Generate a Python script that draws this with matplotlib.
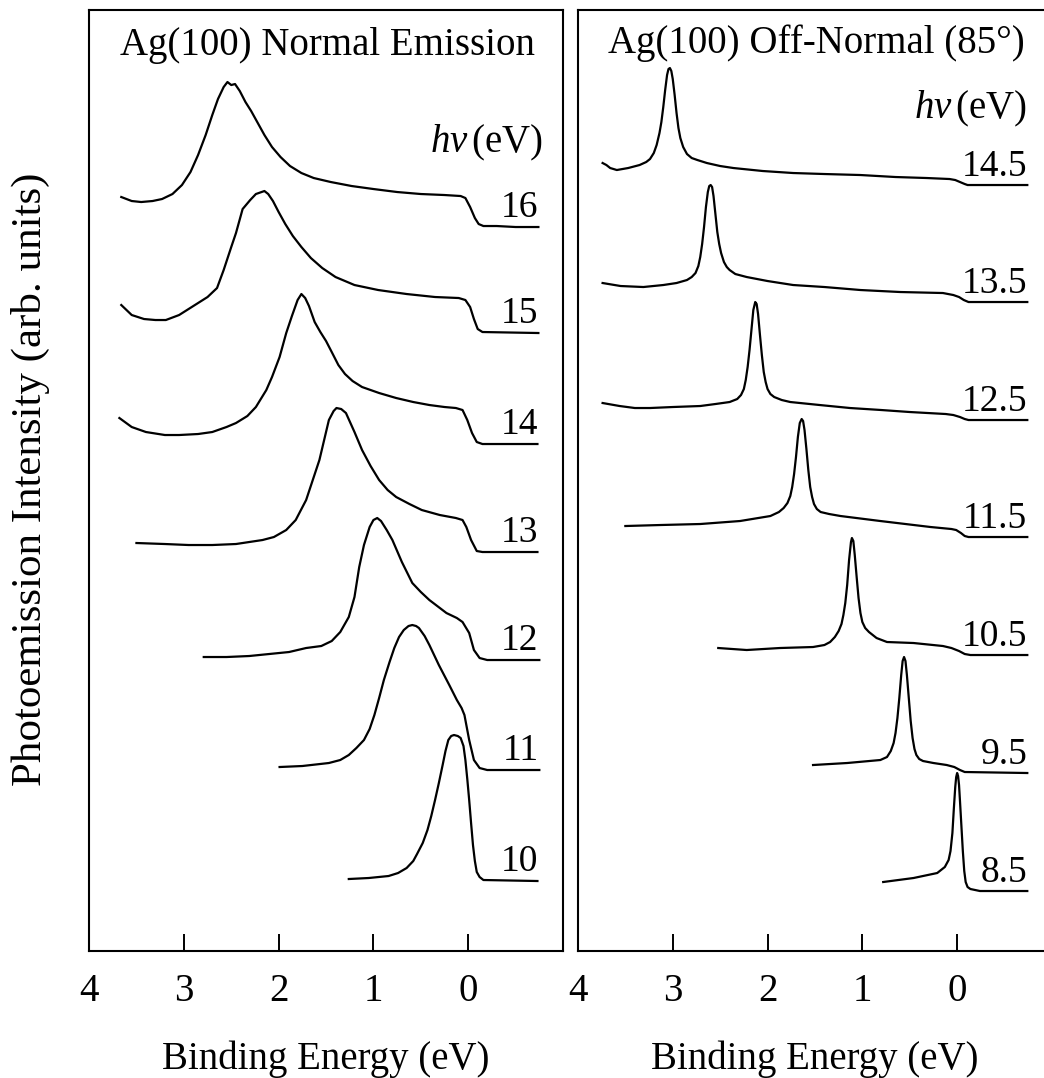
import matplotlib
matplotlib.use("Agg")
import matplotlib.pyplot as plt

# ---- Ag(100) normal emission: binding energy (eV) / intensity (arb. units) ----
E_16 = [3.66, 3.55, 3.45, 3.33, 3.23, 3.12, 3.02, 2.93, 2.85, 2.77, 2.70, 2.64, 2.58, 2.54, 2.50,
        2.46, 2.41, 2.35, 2.29, 2.22, 2.15, 2.07, 1.98, 1.88, 1.76, 1.63, 1.45, 1.23, 1.00, 0.75,
        0.50, 0.25, 0.08, 0.03, -0.02, -0.07, -0.11, -0.16, -0.30, -0.50, -0.74]
I_16 = [30, 26, 25, 26, 28, 33, 42, 55, 72, 92, 112, 128, 140, 145, 142,
        143, 136, 125, 116, 104, 92, 80, 70, 61, 54, 49, 45, 41, 38, 35,
        33, 32, 31, 29, 20, 9, 3, 1, 1, 0, 0]

E_15 = [3.66, 3.55, 3.42, 3.30, 3.19, 3.05, 2.95, 2.85, 2.75, 2.65, 2.58, 2.50, 2.45, 2.38, 2.30,
        2.24, 2.18, 2.15, 2.11, 2.06, 2.00, 1.93, 1.85, 1.76, 1.66, 1.54, 1.40, 1.20, 0.95, 0.65,
        0.35, 0.10, 0.03, -0.02, -0.06, -0.10, -0.15, -0.74]
I_15 = [28, 18, 14, 13, 13, 18, 24, 30, 36, 45, 63, 86, 100, 124, 133,
        139, 141, 142, 139, 132, 121, 109, 97, 86, 75, 65, 56, 48, 43, 39,
        36, 35, 33, 26, 14, 4, 1, 0]

E_14 = [3.68, 3.55, 3.40, 3.20, 3.05, 2.85, 2.70, 2.55, 2.45, 2.33, 2.24, 2.13, 2.07, 1.99, 1.92,
        1.86, 1.80, 1.76, 1.72, 1.68, 1.62, 1.56, 1.50, 1.44, 1.37, 1.30, 1.22, 1.12, 0.94, 0.76,
        0.58, 0.41, 0.25, 0.13, 0.06, 0.01, -0.04, -0.09, -0.15, -0.73]
I_14 = [26, 17, 12, 9, 9, 10, 12, 17, 21, 28, 37, 54, 67, 87, 111,
        128, 144, 150, 146, 138, 122, 112, 103, 92, 79, 70, 63, 57, 51, 46,
        42, 39, 37, 36, 34, 24, 11, 2, 0, 0]

E_13 = [3.50, 3.20, 2.95, 2.70, 2.45, 2.17, 2.05, 1.92, 1.82, 1.71, 1.64, 1.57, 1.52, 1.47, 1.42,
        1.39, 1.34, 1.29, 1.20, 1.12, 1.03, 0.94, 0.85, 0.76, 0.62, 0.49, 0.30, 0.13, 0.06, 0.02,
        -0.03, -0.09, -0.15, -0.73]
I_13 = [9, 8, 7, 7, 8, 12, 15, 22, 32, 52, 72, 92, 112, 132, 141,
        144, 143, 139, 120, 102, 86, 72, 62, 55, 48, 42, 37, 34, 32, 25,
        12, 1, 0, 0]

E_12 = [2.79, 2.55, 2.31, 2.10, 1.89, 1.71, 1.55, 1.44, 1.35, 1.26, 1.20, 1.15, 1.10, 1.04, 1.00,
        0.96, 0.92, 0.86, 0.80, 0.70, 0.59, 0.50, 0.41, 0.23, 0.12, 0.06, -0.01, -0.06, -0.12, -0.20,
        -0.75]
I_12 = [3, 3, 4, 6, 8, 12, 14, 19, 28, 43, 63, 93, 115, 133, 140,
        142, 139, 130, 120, 98, 77, 68, 60, 47, 42, 38, 27, 10, 2, 0,
        0]

E_11 = [1.99, 1.75, 1.47, 1.35, 1.26, 1.18, 1.10, 1.04, 0.99, 0.94, 0.89, 0.83, 0.78, 0.73, 0.68,
        0.63, 0.59, 0.55, 0.52, 0.46, 0.41, 0.31, 0.20, 0.12, 0.07, 0.04, -0.01, -0.06, -0.12, -0.20,
        -0.75]
I_11 = [3, 4, 7, 10, 15, 22, 30, 41, 55, 72, 90, 108, 122, 133, 140,
        144, 145, 144, 142, 134, 125, 105, 85, 70, 62, 55, 30, 10, 2, 0,
        0]

E_10 = [1.26, 1.05, 0.84, 0.74, 0.65, 0.58, 0.54, 0.48, 0.43, 0.39, 0.35, 0.31, 0.27, 0.24, 0.21,
        0.18, 0.15, 0.11, 0.08, 0.05, 0.03, 0.01, -0.01, -0.03, -0.05, -0.07, -0.09, -0.12, -0.16, -0.73]
I_10 = [2, 3, 5, 8, 13, 20, 27, 38, 51, 65, 81, 98, 116, 130, 141,
        145, 146, 145, 143, 135, 121, 102, 81, 58, 36, 20, 9, 4, 1, 0]

NORMAL_HV = ["16", "15", "14", "13", "12", "11", "10"]
NORMAL_OFFSET = [724, 618, 507, 399, 291, 181, 70]

# ---- Ag(100) off-normal (85 deg) ----
E_145 = [3.74, 3.70, 3.66, 3.59, 3.47, 3.35, 3.28, 3.24, 3.20, 3.17, 3.14, 3.12, 3.10, 3.08, 3.06,
         3.045, 3.03, 3.015, 3.00, 2.98, 2.96, 2.94, 2.92, 2.89, 2.85, 2.80, 2.74, 2.64, 2.50, 2.36,
         2.05, 1.73, 1.40, 1.02, 0.65, 0.32, 0.08, 0.02, -0.03, -0.08, -0.11, -0.74]
I_145 = [22, 20, 17, 15, 17, 20, 23, 26, 32, 40, 52, 63, 78, 95, 110,
         116, 117, 114, 106, 90, 72, 57, 47, 38, 31, 27, 25, 22, 19, 17,
         14, 12, 11, 10, 8, 7, 6, 5, 3, 1, 0, 0]

E_135 = [3.74, 3.55, 3.31, 3.10, 2.96, 2.85, 2.80, 2.76, 2.73, 2.71, 2.69, 2.67, 2.65, 2.63, 2.615,
         2.60, 2.585, 2.57, 2.55, 2.53, 2.51, 2.49, 2.46, 2.43, 2.40, 2.34, 2.22, 2.00, 1.73, 1.40,
         1.02, 0.60, 0.15, 0.04, -0.02, -0.07, -0.12, -0.74]
I_135 = [19, 16, 15, 17, 19, 22, 25, 29, 36, 45, 58, 75, 95, 110, 116,
         117, 115, 106, 88, 70, 58, 49, 40, 35, 32, 28, 25, 21, 17, 15,
         12, 10, 9, 7, 5, 2, 0, 0]

E_125 = [3.74, 3.56, 3.40, 3.24, 3.00, 2.71, 2.55, 2.40, 2.32, 2.28, 2.25, 2.23, 2.21, 2.19, 2.17,
         2.15, 2.13, 2.115, 2.10, 2.08, 2.06, 2.04, 2.02, 2.00, 1.97, 1.93, 1.85, 1.76, 1.45, 1.13,
         0.80, 0.50, 0.12, 0.04, -0.03, -0.08, -0.12, -0.74]
I_125 = [17, 14, 12, 12, 13, 14, 16, 18, 21, 25, 31, 40, 53, 70, 90,
         110, 118, 116, 106, 85, 65, 48, 38, 31, 26, 23, 20, 18, 15, 12,
         10, 8, 6, 5, 3, 1, 0, 0]

E_115 = [3.50, 3.13, 2.71, 2.29, 1.97, 1.88, 1.83, 1.79, 1.76, 1.74, 1.72, 1.70, 1.68, 1.66, 1.64,
         1.625, 1.61, 1.59, 1.57, 1.55, 1.53, 1.51, 1.48, 1.44, 1.35, 1.23, 0.81, 0.28, 0.06, 0.01,
         -0.04, -0.08, -0.12, -0.74]
I_115 = [11, 12, 13, 16, 21, 25, 29, 34, 41, 50, 63, 80, 100, 114, 118,
         116, 107, 88, 67, 50, 40, 33, 28, 25, 23, 21, 16, 10, 8, 7,
         4, 1, 0, 0]

E_105 = [2.52, 2.22, 1.87, 1.52, 1.40, 1.34, 1.29, 1.25, 1.22, 1.20, 1.18, 1.16, 1.14, 1.12, 1.11,
         1.095, 1.08, 1.06, 1.04, 1.02, 1.00, 0.97, 0.93, 0.85, 0.74, 0.46, 0.15, 0.06, -0.02, -0.08,
         -0.14, -0.74]
I_105 = [7, 5, 7, 8, 10, 13, 18, 24, 31, 40, 52, 70, 95, 113, 117,
         114, 100, 78, 57, 42, 33, 27, 23, 17, 13, 12, 9, 7, 4, 1,
         0, 0]

E_95 = [1.52, 1.16, 0.81, 0.74, 0.70, 0.67, 0.65, 0.63, 0.61, 0.59, 0.575, 0.56, 0.545, 0.53, 0.51,
        0.49, 0.47, 0.45, 0.43, 0.40, 0.36, 0.25, 0.11, 0.03, -0.03, -0.08, -0.74]
I_95 = [8, 10, 13, 16, 22, 30, 40, 55, 75, 98, 112, 116, 112, 98, 75,
        52, 35, 24, 18, 14, 12, 10, 8, 6, 3, 1, 0]

E_85 = [0.78, 0.46, 0.21, 0.13, 0.09, 0.07, 0.05, 0.035, 0.02, 0.01, 0.00, -0.01, -0.02, -0.03, -0.045,
        -0.06, -0.075, -0.09, -0.11, -0.14, -0.24, -0.74]
I_85 = [9, 13, 18, 24, 31, 40, 58, 82, 104, 114, 118, 115, 106, 90, 65,
        40, 20, 9, 4, 2, 0, 0]

OFF_HV = ["14.5", "13.5", "12.5", "11.5", "10.5", "9.5", "8.5"]
OFF_OFFSET = [766, 649, 531, 414, 296, 178, 60]

XTICKS = [4, 3, 2, 1, 0]
XTICKLABELS = ["4", "3", "2", "1", "0"]

plt.rcParams.update({
    "font.family": "Liberation Serif",
    "mathtext.fontset": "custom",
    "mathtext.rm": "Liberation Serif",
    "mathtext.it": "Liberation Serif:italic",
})

fig = plt.figure(figsize=(10.44, 10.78), dpi=100)
ax1 = fig.add_axes([0.0853, 0.1178, 0.4540, 0.8729])
ax2 = fig.add_axes([0.5536, 0.1178, 0.4540, 0.8729])

normal = [(E_16, I_16), (E_15, I_15), (E_14, I_14), (E_13, I_13),
          (E_12, I_12), (E_11, I_11), (E_10, I_10)]
offn = [(E_145, I_145), (E_135, I_135), (E_125, I_125), (E_115, I_115),
        (E_105, I_105), (E_95, I_95), (E_85, I_85)]

for ax, traces, labels, offsets, lab_dy in [
        (ax1, normal, NORMAL_HV, NORMAL_OFFSET, 10),
        (ax2, offn, OFF_HV, OFF_OFFSET, 9)]:
    for (e, inten), lab, off in zip(traces, labels, offsets):
        ax.plot(e, [v + off for v in inten], color="black", lw=1.6,
                solid_joinstyle="round")
        ax.text(-0.74, off + lab_dy, lab, ha="right", va="baseline", fontsize=27)
    ax.set_xlim(4, -1)
    ax.set_ylim(0, 941)
    ax.set_xticks(XTICKS)
    ax.set_xticklabels(XTICKLABELS)
    ax.set_yticks([])
    ax.tick_params(axis="x", direction="in", length=12, width=1.4,
                   labelsize=28, pad=16)
    for sp in ax.spines.values():
        sp.set_linewidth(1.5)
    ax.set_xlabel("Binding Energy (eV)", fontsize=28, labelpad=22)

ax1.text(0.941, 0.952, "Ag(100) Normal Emission", transform=ax1.transAxes,
         ha="right", va="baseline", fontsize=28)
ax1.text(0.958, 0.849, r"$h\nu\,$(eV)", transform=ax1.transAxes,
         ha="right", va="baseline", fontsize=28)
ax2.text(0.943, 0.954, "Ag(100) Off-Normal (85°)", transform=ax2.transAxes,
         ha="right", va="baseline", fontsize=28)
ax2.text(0.947, 0.885, r"$h\nu\,$(eV)", transform=ax2.transAxes,
         ha="right", va="baseline", fontsize=28)

fig.text(0.029, 0.555, "Photoemission Intensity (arb. units)", rotation=90,
         ha="center", va="center", fontsize=31)

fig.savefig("out.png", dpi=100, facecolor="white")
